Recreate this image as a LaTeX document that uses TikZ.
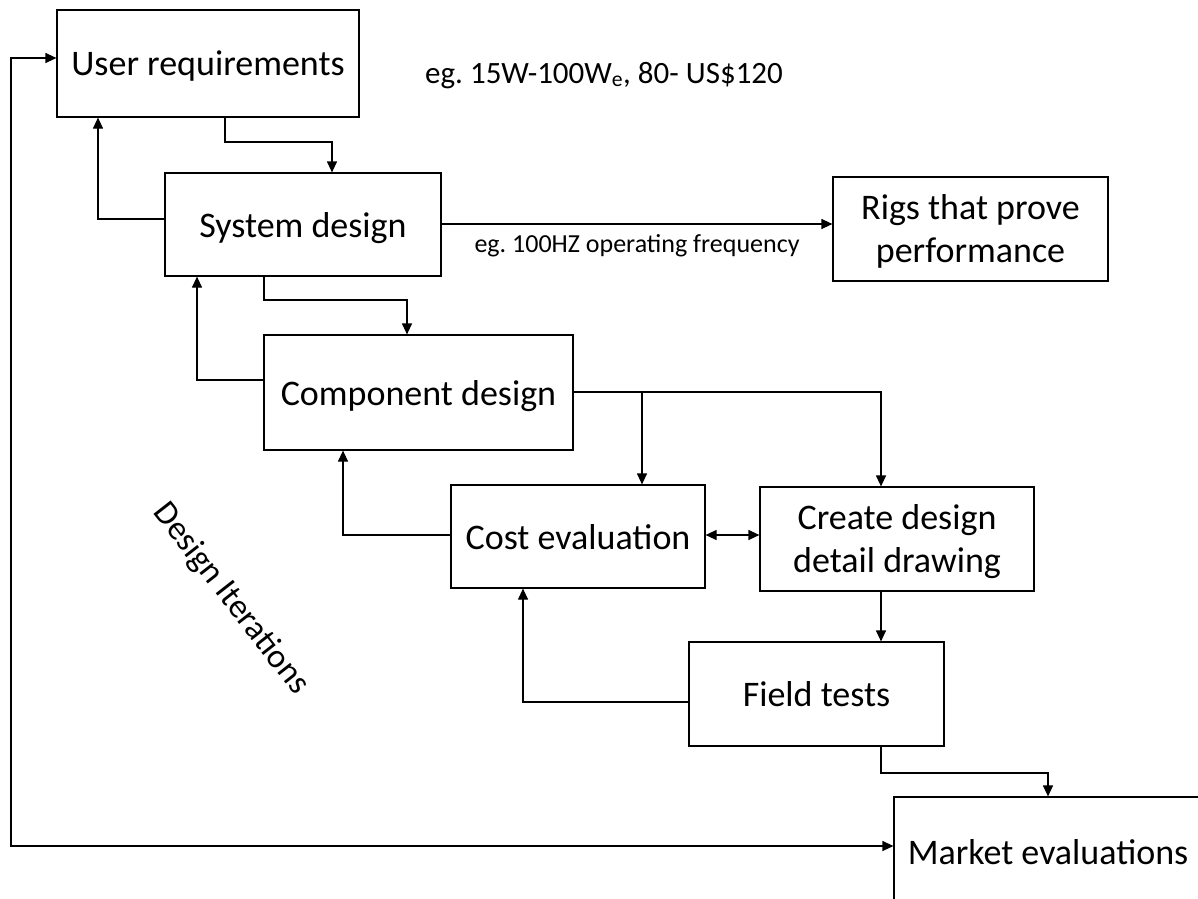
\documentclass[tikz,border=0pt]{standalone}
\usepackage{fontspec}
\setmainfont{Carlito}
\usetikzlibrary{arrows.meta}
\begin{document}
\frenchspacing
\begin{tikzpicture}[x=1pt,y=-1pt,
  >={Triangle[length=11pt,width=10pt]},
  box/.style={draw, line width=1.2pt, inner sep=0pt,
    font=\fontsize{36}{43}\selectfont, text depth=0pt},
  box2/.style={box, text height=23pt, text depth=43pt},
  conn/.style={line width=1.2pt, ->},
  biconn/.style={line width=1.2pt, <->},
  note/.style={inner sep=0pt, font=\fontsize{31}{36}\selectfont},
  small/.style={inner sep=0pt, font=\fontsize{26}{30}\selectfont},
]
\useasboundingbox (0,0) rectangle (1198,898);

\node[box, minimum width=302pt, minimum height=107pt] (ur) at (208,63.5) {User requirements};
\node[box, minimum width=276pt, minimum height=103pt] (sd) at (303,224.5) {System design};
\node[box2, minimum width=275pt, minimum height=104pt] (rigs) at (970.5,229) {\begin{tabular}[t]{@{}c@{}}Rigs that prove\\performance\end{tabular}};
\node[box, minimum width=309pt, minimum height=115pt] (cd) at (418.5,392.5) {Component design};
\node[box, minimum width=254pt, minimum height=103pt] (ce) at (578,536.5) {Cost evaluation};
\node[box2, minimum width=274pt, minimum height=104pt] (cr) at (897,539) {\begin{tabular}[t]{@{}c@{}}Create design\\detail drawing\end{tabular}};
\node[box, minimum width=255pt, minimum height=104pt] (ft) at (816.5,694) {Field tests};
\node[box, minimum width=308pt, minimum height=110pt] (me) at (1048,852) {Market evaluations};

\node[note, anchor=base west] (eg1) at (425,83) {eg. 15W-100W\textsubscript{e}, 80- US\$120};
\node[box, draw=none, rotate=-52, font=\fontsize{34}{40}\selectfont] (di) at (233,597) {Design Iterations};

% connectors
\draw[conn] (225,0 |- ur.south) -- (225,142) -| (332,0 |- sd.north);
\draw[conn] (sd.west |- 0,219) -| (98,0 |- ur.south);
\draw[conn] (sd.east |- 0,224) -- node[small, anchor=base, yshift=-28pt] (eg2) {eg. 100HZ operating frequency} (rigs.west |- 0,224);
\draw[conn] (264,0 |- sd.south) -- (264,300) -| (407,0 |- cd.north);
\draw[conn] (cd.west |- 0,380) -| (197,0 |- sd.south);
\coordinate (j1) at (642,392);
\draw[conn] (cd.east |- j1) -| (881,0 |- cr.north);
\draw[conn] (j1) -- (j1 |- ce.north);
\draw[conn] (ce.west |- 0,535) -| (343,0 |- cd.south);
\draw[biconn] (ce.east |- 0,535) -- (cr.west |- 0,535);
\draw[conn] (881,0 |- cr.south) -- (881,0 |- ft.north);
\draw[conn] (ft.west |- 0,702) -| (523,0 |- ce.south);
\draw[conn] (881,0 |- ft.south) -- (881,773) -| (1048,0 |- me.north);
\draw[biconn] (me.west |- 0,846) -- (11,846) -- (11,58) -- (ur.west |- 0,58);
\end{tikzpicture}
\end{document}
